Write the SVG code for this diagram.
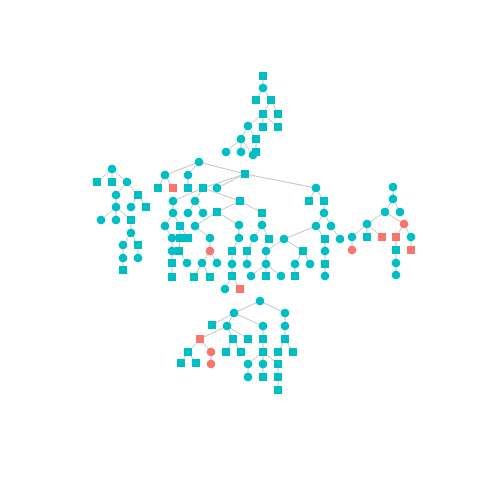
<svg xmlns="http://www.w3.org/2000/svg" width="480" height="480" viewBox="0 0 480 480">
<style>
.e line{stroke:#c4c4c4;stroke-width:1;fill:none}
.t{fill:#00BFC4}
.s{fill:#F8766D}
</style>
<rect width="480" height="480" fill="#fff"/>
<g id="edges" class="e">
<line x1="263" y1="76" x2="263" y2="88"/><line x1="263" y1="88" x2="256" y2="100"/><line x1="263" y1="88" x2="271" y2="100"/><line x1="271" y1="100" x2="263" y2="114"/><line x1="271" y1="100" x2="278" y2="114"/><line x1="263" y1="114" x2="248" y2="126"/><line x1="263" y1="114" x2="263" y2="127"/><line x1="263" y1="114" x2="278" y2="127"/><line x1="248" y1="126" x2="241" y2="139"/><line x1="248" y1="126" x2="256" y2="139"/><line x1="241" y1="139" x2="226" y2="152"/><line x1="241" y1="139" x2="241" y2="152"/><line x1="241" y1="139" x2="253" y2="155"/><line x1="256" y1="139" x2="256" y2="152"/>
<line x1="112" y1="169" x2="97" y2="182"/><line x1="112" y1="169" x2="112" y2="182"/><line x1="112" y1="169" x2="127" y2="182"/><line x1="127" y1="182" x2="116" y2="195"/><line x1="127" y1="182" x2="138" y2="195"/><line x1="138" y1="195" x2="131" y2="207"/><line x1="138" y1="195" x2="146" y2="207"/><line x1="116" y1="195" x2="116" y2="207"/><line x1="116" y1="207" x2="101" y2="220"/><line x1="116" y1="207" x2="116" y2="220"/><line x1="116" y1="207" x2="131" y2="220"/><line x1="131" y1="220" x2="131" y2="233"/><line x1="131" y1="233" x2="123" y2="245"/><line x1="131" y1="233" x2="138" y2="245"/><line x1="123" y1="245" x2="123" y2="258"/><line x1="138" y1="245" x2="138" y2="258"/><line x1="123" y1="258" x2="123" y2="270"/>
<line x1="199" y1="162" x2="165" y2="175"/><line x1="199" y1="162" x2="188" y2="175"/><line x1="199" y1="162" x2="245" y2="174"/><line x1="165" y1="175" x2="158" y2="188"/><line x1="165" y1="175" x2="173" y2="188"/><line x1="188" y1="175" x2="188" y2="188"/><line x1="245" y1="174" x2="203" y2="188"/><line x1="245" y1="174" x2="217" y2="188"/><line x1="245" y1="174" x2="316" y2="188"/><line x1="316" y1="188" x2="309" y2="201"/><line x1="316" y1="188" x2="324" y2="201"/><line x1="324" y1="201" x2="324" y2="213"/><line x1="324" y1="213" x2="316" y2="226"/><line x1="324" y1="213" x2="331" y2="226"/><line x1="203" y1="188" x2="173" y2="201"/><line x1="203" y1="188" x2="195" y2="201"/><line x1="203" y1="188" x2="240" y2="201"/><line x1="173" y1="201" x2="173" y2="213"/><line x1="195" y1="201" x2="188" y2="213"/><line x1="195" y1="201" x2="203" y2="213"/><line x1="240" y1="201" x2="217" y2="212"/><line x1="240" y1="201" x2="262" y2="213"/><line x1="173" y1="213" x2="165" y2="226"/><line x1="173" y1="213" x2="180" y2="226"/><line x1="217" y1="212" x2="195" y2="226"/><line x1="217" y1="212" x2="239" y2="225"/><line x1="262" y1="213" x2="262" y2="225"/><line x1="316" y1="226" x2="284" y2="239"/><line x1="316" y1="226" x2="325" y2="239"/><line x1="331" y1="226" x2="340" y2="239"/><line x1="165" y1="226" x2="172" y2="238"/><line x1="180" y1="226" x2="180" y2="238"/><line x1="180" y1="226" x2="188" y2="238"/><line x1="195" y1="226" x2="210" y2="238"/><line x1="239" y1="225" x2="239" y2="238"/><line x1="262" y1="225" x2="254" y2="238"/><line x1="262" y1="225" x2="269" y2="239"/><line x1="172" y1="238" x2="172" y2="251"/><line x1="180" y1="238" x2="179" y2="251"/><line x1="210" y1="238" x2="210" y2="251"/><line x1="239" y1="238" x2="232" y2="251"/><line x1="254" y1="238" x2="247" y2="251"/><line x1="284" y1="239" x2="266" y2="251"/><line x1="284" y1="239" x2="303" y2="251"/><line x1="325" y1="239" x2="325" y2="251"/><line x1="172" y1="251" x2="172" y2="263"/><line x1="179" y1="251" x2="187" y2="263"/><line x1="210" y1="251" x2="202" y2="263"/><line x1="210" y1="251" x2="217" y2="263"/><line x1="232" y1="251" x2="232" y2="264"/><line x1="247" y1="251" x2="247" y2="264"/><line x1="266" y1="251" x2="266" y2="264"/><line x1="303" y1="251" x2="295" y2="264"/><line x1="303" y1="251" x2="310" y2="264"/><line x1="325" y1="251" x2="325" y2="264"/><line x1="172" y1="263" x2="172" y2="277"/><line x1="202" y1="263" x2="194" y2="277"/><line x1="202" y1="263" x2="210" y2="277"/><line x1="232" y1="264" x2="232" y2="276"/><line x1="266" y1="264" x2="251" y2="276"/><line x1="266" y1="264" x2="266" y2="276"/><line x1="266" y1="264" x2="281" y2="276"/><line x1="295" y1="264" x2="295" y2="276"/><line x1="325" y1="264" x2="325" y2="276"/><line x1="232" y1="276" x2="225" y2="289"/><line x1="232" y1="276" x2="240" y2="289"/>
<line x1="393" y1="187" x2="393" y2="199"/><line x1="393" y1="199" x2="385" y2="212"/><line x1="393" y1="199" x2="400" y2="212"/><line x1="385" y1="212" x2="367" y2="224"/><line x1="385" y1="212" x2="404" y2="224"/><line x1="367" y1="224" x2="352" y2="237"/><line x1="367" y1="224" x2="367" y2="237"/><line x1="367" y1="224" x2="382" y2="237"/><line x1="352" y1="237" x2="352" y2="250"/><line x1="404" y1="224" x2="396" y2="237"/><line x1="404" y1="224" x2="411" y2="237"/><line x1="396" y1="237" x2="396" y2="250"/><line x1="396" y1="250" x2="396" y2="263"/><line x1="396" y1="263" x2="396" y2="275"/><line x1="411" y1="237" x2="411" y2="250"/>
<line x1="260" y1="301" x2="234" y2="313"/><line x1="260" y1="301" x2="285" y2="313"/><line x1="234" y1="313" x2="212" y2="325"/><line x1="234" y1="313" x2="227" y2="326"/><line x1="234" y1="313" x2="263" y2="326"/><line x1="285" y1="313" x2="285" y2="326"/><line x1="227" y1="326" x2="200" y2="339"/><line x1="227" y1="326" x2="233" y2="339"/><line x1="227" y1="326" x2="248" y2="339"/><line x1="263" y1="326" x2="263" y2="339"/><line x1="285" y1="326" x2="285" y2="339"/><line x1="200" y1="339" x2="188" y2="352"/><line x1="200" y1="339" x2="211" y2="352"/><line x1="233" y1="339" x2="226" y2="352"/><line x1="233" y1="339" x2="241" y2="352"/><line x1="263" y1="339" x2="263" y2="352"/><line x1="285" y1="339" x2="278" y2="352"/><line x1="285" y1="339" x2="293" y2="352"/><line x1="188" y1="352" x2="181" y2="363"/><line x1="188" y1="352" x2="196" y2="363"/><line x1="211" y1="352" x2="211" y2="364"/><line x1="263" y1="352" x2="248" y2="364"/><line x1="263" y1="352" x2="263" y2="364"/><line x1="263" y1="352" x2="278" y2="364"/><line x1="248" y1="364" x2="248" y2="377"/><line x1="263" y1="364" x2="263" y2="377"/><line x1="278" y1="364" x2="278" y2="377"/><line x1="278" y1="377" x2="278" y2="390"/>
</g>
<g id="t1"><rect class="t" x="259" y="72" width="8" height="8"/></g>
<g id="t2"><circle class="t" cx="263" cy="88" r="4.3"/></g>
<g id="t3"><rect class="t" x="252" y="96" width="8" height="8"/></g>
<g id="t4"><rect class="t" x="267" y="96" width="8" height="8"/></g>
<g id="t5"><rect class="t" x="259" y="110" width="8" height="8"/></g>
<g id="t6"><rect class="t" x="274" y="110" width="8" height="8"/></g>
<g id="t7"><circle class="t" cx="248" cy="126" r="4.3"/></g>
<g id="t8"><rect class="t" x="259" y="123" width="8" height="8"/></g>
<g id="t9"><rect class="t" x="274" y="123" width="8" height="8"/></g>
<g id="t10"><circle class="t" cx="241" cy="139" r="4.3"/></g>
<g id="t11"><rect class="t" x="252" y="135" width="8" height="8"/></g>
<g id="t12"><circle class="t" cx="226" cy="152" r="4.3"/></g>
<g id="t13"><circle class="t" cx="241" cy="152" r="4.3"/></g>
<g id="t14"><rect class="t" x="252" y="148" width="8" height="8"/></g>
<g id="t15"><circle class="t" cx="253" cy="155" r="4.3"/></g>
<g id="l1"><circle class="t" cx="112" cy="169" r="4.3"/></g>
<g id="l2"><rect class="t" x="93" y="178" width="8" height="8"/></g>
<g id="l3"><rect class="t" x="108" y="178" width="8" height="8"/></g>
<g id="l4"><circle class="t" cx="127" cy="182" r="4.3"/></g>
<g id="l5"><circle class="t" cx="116" cy="195" r="4.3"/></g>
<g id="l6"><rect class="t" x="134" y="191" width="8" height="8"/></g>
<g id="l7"><circle class="t" cx="116" cy="207" r="4.3"/></g>
<g id="l8"><circle class="t" cx="131" cy="207" r="4.3"/></g>
<g id="l9"><rect class="t" x="142" y="203" width="8" height="8"/></g>
<g id="l10"><circle class="t" cx="101" cy="220" r="4.3"/></g>
<g id="l11"><circle class="t" cx="116" cy="220" r="4.3"/></g>
<g id="l12"><rect class="t" x="127" y="216" width="8" height="8"/></g>
<g id="l13"><circle class="t" cx="131" cy="233" r="4.3"/></g>
<g id="l14"><circle class="t" cx="123" cy="245" r="4.3"/></g>
<g id="l15"><rect class="t" x="134" y="241" width="8" height="8"/></g>
<g id="l16"><circle class="t" cx="123" cy="258" r="4.3"/></g>
<g id="l17"><circle class="t" cx="138" cy="258" r="4.3"/></g>
<g id="l18"><rect class="t" x="119" y="266" width="8" height="8"/></g>
<g id="m1"><circle class="t" cx="199" cy="162" r="4.3"/></g>
<g id="m2"><circle class="t" cx="165" cy="175" r="4.3"/></g>
<g id="m3"><circle class="t" cx="188" cy="175" r="4.3"/></g>
<g id="m4"><rect class="t" x="241" y="170" width="8" height="8"/></g>
<g id="m5"><rect class="t" x="154" y="184" width="8" height="8"/></g>
<g id="m6"><rect class="s" x="169" y="184" width="8" height="8"/></g>
<g id="m7"><rect class="t" x="184" y="184" width="8" height="8"/></g>
<g id="m8"><rect class="t" x="199" y="184" width="8" height="8"/></g>
<g id="m9"><circle class="t" cx="217" cy="188" r="4.3"/></g>
<g id="m10"><circle class="t" cx="316" cy="188" r="4.3"/></g>
<g id="m11"><rect class="t" x="305" y="197" width="8" height="8"/></g>
<g id="m12"><rect class="t" x="320" y="197" width="8" height="8"/></g>
<g id="m13"><circle class="t" cx="324" cy="213" r="4.3"/></g>
<g id="m14"><circle class="t" cx="316" cy="226" r="4.3"/></g>
<g id="m15"><circle class="t" cx="331" cy="226" r="4.3"/></g>
<g id="m16"><circle class="t" cx="173" cy="201" r="4.3"/></g>
<g id="m17"><circle class="t" cx="195" cy="201" r="4.3"/></g>
<g id="m18"><rect class="t" x="236" y="197" width="8" height="8"/></g>
<g id="m19"><circle class="t" cx="173" cy="213" r="4.3"/></g>
<g id="m20"><circle class="t" cx="188" cy="213" r="4.3"/></g>
<g id="m21"><circle class="t" cx="203" cy="213" r="4.3"/></g>
<g id="m22"><rect class="t" x="213" y="208" width="8" height="8"/></g>
<g id="m23"><rect class="t" x="258" y="209" width="8" height="8"/></g>
<g id="m24"><circle class="t" cx="165" cy="226" r="4.3"/></g>
<g id="m25"><rect class="t" x="176" y="222" width="8" height="8"/></g>
<g id="m26"><circle class="t" cx="195" cy="226" r="4.3"/></g>
<g id="m27"><circle class="t" cx="239" cy="225" r="4.3"/></g>
<g id="m28"><circle class="t" cx="262" cy="225" r="4.3"/></g>
<g id="m29"><circle class="t" cx="284" cy="239" r="4.3"/></g>
<g id="m30"><rect class="t" x="321" y="235" width="8" height="8"/></g>
<g id="m31"><circle class="t" cx="340" cy="239" r="4.3"/></g>
<g id="m32"><circle class="t" cx="172" cy="238" r="4.3"/></g>
<g id="m33"><rect class="t" x="176" y="234" width="8" height="8"/></g>
<g id="m34"><rect class="t" x="184" y="234" width="8" height="8"/></g>
<g id="m35"><circle class="t" cx="210" cy="238" r="4.3"/></g>
<g id="m36"><circle class="t" cx="239" cy="238" r="4.3"/></g>
<g id="m37"><circle class="t" cx="254" cy="238" r="4.3"/></g>
<g id="m38"><rect class="t" x="265" y="235" width="8" height="8"/></g>
<g id="m39"><circle class="t" cx="172" cy="251" r="4.3"/></g>
<g id="m40"><rect class="t" x="175" y="247" width="8" height="8"/></g>
<g id="m41"><circle class="s" cx="210" cy="251" r="4.3"/></g>
<g id="m42"><rect class="t" x="228" y="247" width="8" height="8"/></g>
<g id="m43"><rect class="t" x="243" y="247" width="8" height="8"/></g>
<g id="m44"><circle class="t" cx="266" cy="251" r="4.3"/></g>
<g id="m45"><rect class="t" x="299" y="247" width="8" height="8"/></g>
<g id="m46"><circle class="t" cx="325" cy="251" r="4.3"/></g>
<g id="m47"><rect class="t" x="168" y="259" width="8" height="8"/></g>
<g id="m48"><circle class="t" cx="187" cy="263" r="4.3"/></g>
<g id="m49"><circle class="t" cx="202" cy="263" r="4.3"/></g>
<g id="m50"><circle class="t" cx="217" cy="263" r="4.3"/></g>
<g id="m51"><circle class="t" cx="232" cy="264" r="4.3"/></g>
<g id="m52"><circle class="t" cx="247" cy="264" r="4.3"/></g>
<g id="m53"><circle class="t" cx="266" cy="264" r="4.3"/></g>
<g id="m54"><circle class="t" cx="295" cy="264" r="4.3"/></g>
<g id="m55"><circle class="t" cx="310" cy="264" r="4.3"/></g>
<g id="m56"><rect class="t" x="321" y="260" width="8" height="8"/></g>
<g id="m57"><rect class="t" x="168" y="273" width="8" height="8"/></g>
<g id="m58"><rect class="t" x="190" y="273" width="8" height="8"/></g>
<g id="m59"><rect class="t" x="206" y="273" width="8" height="8"/></g>
<g id="m60"><rect class="t" x="228" y="272" width="8" height="8"/></g>
<g id="m61"><circle class="t" cx="251" cy="276" r="4.3"/></g>
<g id="m62"><rect class="t" x="262" y="272" width="8" height="8"/></g>
<g id="m63"><circle class="t" cx="281" cy="276" r="4.3"/></g>
<g id="m64"><rect class="t" x="291" y="272" width="8" height="8"/></g>
<g id="m65"><circle class="t" cx="325" cy="276" r="4.3"/></g>
<g id="m66"><circle class="t" cx="225" cy="289" r="4.3"/></g>
<g id="m67"><rect class="s" x="236" y="285" width="8" height="8"/></g>
<g id="r1"><circle class="t" cx="393" cy="187" r="4.3"/></g>
<g id="r2"><circle class="t" cx="393" cy="199" r="4.3"/></g>
<g id="r3"><circle class="t" cx="385" cy="212" r="4.3"/></g>
<g id="r4"><circle class="t" cx="400" cy="212" r="4.3"/></g>
<g id="r5"><circle class="t" cx="367" cy="224" r="4.3"/></g>
<g id="r6"><circle class="s" cx="404" cy="224" r="4.3"/></g>
<g id="r7"><circle class="t" cx="352" cy="237" r="4.3"/></g>
<g id="r8"><rect class="t" x="363" y="233" width="8" height="8"/></g>
<g id="r9"><rect class="s" x="378" y="233" width="8" height="8"/></g>
<g id="r10"><rect class="s" x="392" y="233" width="8" height="8"/></g>
<g id="r11"><circle class="t" cx="411" cy="237" r="4.3"/></g>
<g id="r12"><circle class="s" cx="352" cy="250" r="4.3"/></g>
<g id="r13"><rect class="t" x="392" y="246" width="8" height="8"/></g>
<g id="r14"><rect class="s" x="407" y="246" width="8" height="8"/></g>
<g id="r15"><circle class="t" cx="396" cy="263" r="4.3"/></g>
<g id="r16"><circle class="t" cx="396" cy="275" r="4.3"/></g>
<g id="b1"><circle class="t" cx="260" cy="301" r="4.3"/></g>
<g id="b2"><circle class="t" cx="234" cy="313" r="4.3"/></g>
<g id="b3"><circle class="t" cx="285" cy="313" r="4.3"/></g>
<g id="b4"><rect class="t" x="208" y="321" width="8" height="8"/></g>
<g id="b5"><circle class="t" cx="227" cy="326" r="4.3"/></g>
<g id="b6"><circle class="t" cx="263" cy="326" r="4.3"/></g>
<g id="b7"><circle class="t" cx="285" cy="326" r="4.3"/></g>
<g id="b8"><rect class="s" x="196" y="335" width="8" height="8"/></g>
<g id="b9"><rect class="t" x="229" y="335" width="8" height="8"/></g>
<g id="b10"><rect class="t" x="244" y="335" width="8" height="8"/></g>
<g id="b11"><rect class="t" x="259" y="335" width="8" height="8"/></g>
<g id="b12"><rect class="t" x="281" y="335" width="8" height="8"/></g>
<g id="b13"><rect class="t" x="184" y="348" width="8" height="8"/></g>
<g id="b14"><circle class="s" cx="211" cy="352" r="4.3"/></g>
<g id="b15"><rect class="t" x="222" y="348" width="8" height="8"/></g>
<g id="b16"><rect class="t" x="237" y="348" width="8" height="8"/></g>
<g id="b17"><rect class="t" x="259" y="348" width="8" height="8"/></g>
<g id="b18"><rect class="t" x="274" y="348" width="8" height="8"/></g>
<g id="b19"><rect class="t" x="289" y="348" width="8" height="8"/></g>
<g id="b20"><rect class="t" x="177" y="359" width="8" height="8"/></g>
<g id="b21"><rect class="t" x="192" y="359" width="8" height="8"/></g>
<g id="b22"><circle class="s" cx="211" cy="364" r="4.3"/></g>
<g id="b23"><circle class="t" cx="248" cy="364" r="4.3"/></g>
<g id="b24"><circle class="t" cx="263" cy="364" r="4.3"/></g>
<g id="b25"><rect class="t" x="274" y="360" width="8" height="8"/></g>
<g id="b26"><circle class="t" cx="248" cy="377" r="4.3"/></g>
<g id="b27"><rect class="t" x="259" y="373" width="8" height="8"/></g>
<g id="b28"><rect class="t" x="274" y="373" width="8" height="8"/></g>
<g id="b29"><rect class="t" x="274" y="386" width="8" height="8"/></g>
</svg>
